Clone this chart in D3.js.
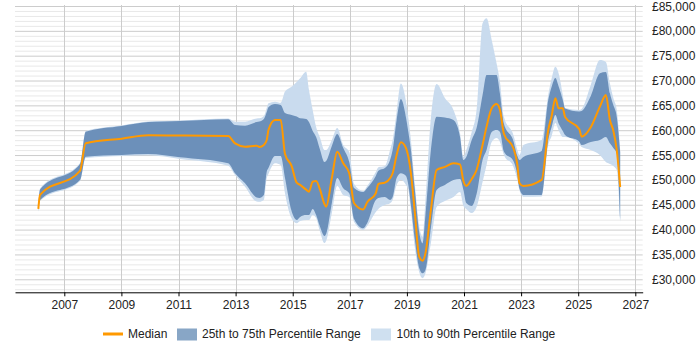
<!DOCTYPE html>
<html>
<head>
<meta charset="utf-8">
<script src="https://cdn.jsdelivr.net/npm/d3@7"></script>
<style>
  body { margin: 0; background: #fff; }
  text { font-family: "Liberation Sans", Arial, sans-serif; font-size: 12px; fill: #222; }
</style>
</head>
<body>
<div id="chart"></div>
<script>
// decimal years of each sample
const years = [2006.09, 2006.15, 2007.55, 2007.75, 2009.01, 2009.94, 2011.05, 2012.74, 2012.98, 2013.33,
  2013.74, 2013.83, 2013.99, 2014.09, 2014.15, 2014.38, 2014.58, 2014.73, 2014.96, 2015.14,
  2015.26, 2015.47, 2015.57, 2015.70, 2015.82, 2015.96, 2016.11, 2016.17, 2016.37, 2016.56,
  2016.77, 2016.98, 2017.15, 2017.47, 2017.61, 2017.91, 2018.00, 2018.23, 2018.41, 2018.50,
  2018.64, 2018.79, 2018.97, 2019.05, 2019.14, 2019.28, 2019.43, 2019.55, 2019.65, 2019.84,
  2020.04, 2020.33, 2020.63, 2020.86, 2020.98, 2021.08, 2021.27, 2021.44, 2021.65, 2021.79,
  2021.97, 2022.14, 2022.26, 2022.40, 2022.73, 2022.87, 2022.94, 2023.08, 2023.72, 2023.95,
  2024.07, 2024.20, 2024.31, 2024.46, 2024.54, 2025.04, 2025.12, 2025.44, 2025.76, 2025.97,
  2026.11, 2026.23, 2026.35, 2026.47];

const p90 = [44960, 48280, 53410, 59850, 60960, 61760, 61960, 62370, 61720, 61720,
  62370, 62410, 62870, 64480, 65420, 65750, 65540, 67800, 68760, 69710,
  70450, 71780, 68100, 64080, 60650, 58440, 56030, 56030, 58040, 60450,
  57030, 55620, 49190, 47780, 48780, 51600, 52550, 52810, 56030, 58040,
  63670, 69410, 65690, 62470, 58040, 48990, 40740, 38580, 45970, 62470,
  69310, 66490, 64080, 59450, 54680, 56030, 59650, 64080, 81520, 82520,
  78160, 73470, 69710, 62670, 59040, 56030, 55020, 57030, 58040, 67090,
  70450, 72790, 71520, 67090, 64480, 64080, 64280, 69110, 74130, 73730,
  69450, 66490, 64080, 56030];

const p75 = [44760, 48080, 53210, 59710, 60860, 61660, 61860, 62210, 61060, 60920,
  61660, 61760, 62270, 63670, 64620, 65280, 65080, 63470, 63070, 62770,
  62410, 62270, 61660, 59850, 58640, 56030, 53610, 53810, 56830, 59250,
  56430, 53610, 48380, 47580, 48380, 50800, 51860, 52410, 54020, 56030,
  62060, 66290, 62470, 59650, 56030, 47980, 39530, 37250, 42950, 56030,
  62730, 62570, 62060, 58700, 54020, 54620, 58040, 60450, 67090, 71120,
  71120, 71120, 67290, 61260, 57840, 54820, 54020, 54620, 55830, 66090,
  68760, 70510, 68910, 66090, 64380, 63770, 63870, 66890, 71460, 71720,
  67430, 65080, 62730, 55620];

const median = [44160, 46970, 51800, 57380, 58300, 58980, 58920, 58840, 57340, 56690,
  56890, 56630, 57030, 58040, 60050, 62060, 62060, 55220, 52810, 49450,
  48990, 48040, 47640, 49650, 49790, 47980, 45160, 44620, 50330, 55690,
  53350, 51340, 45300, 44060, 45500, 47310, 49190, 49450, 50330, 51340,
  55020, 57580, 56370, 54680, 51340, 43290, 34560, 33750, 35240, 43960,
  52000, 52610, 53350, 53110, 49790, 48780, 50190, 52000, 57030, 60720,
  64420, 65280, 64080, 59250, 56370, 53010, 49390, 48780, 49990, 60050,
  62870, 66430, 64420, 64420, 62670, 60190, 58700, 60590, 64740, 67090,
  62060, 59910, 56030, 48580];

const p25 = [43750, 45970, 49990, 54680, 55020, 55220, 54560, 53350, 51340, 49330,
  46470, 46370, 46970, 51660, 52410, 54820, 54820, 50390, 43750, 41940,
  42550, 42950, 42950, 44160, 42950, 40530, 38720, 39130, 45300, 50390,
  48320, 47310, 42140, 40270, 41340, 45970, 46370, 46570, 45970, 46570,
  50390, 51340, 50800, 48990, 44960, 37920, 32280, 31210, 31870, 40330,
  47980, 48990, 49990, 50190, 47980, 45360, 44760, 47170, 54020, 56030,
  59650, 60050, 59650, 55690, 53810, 51000, 48320, 46970, 46970, 58040,
  60650, 63070, 61400, 59850, 59040, 57700, 57030, 57640, 58040, 58640,
  57380, 56430, 55360, 41940];

const p10 = [43550, 45760, 49790, 54420, 54820, 54960, 54220, 52870, 51000, 48640,
  45660, 45620, 45970, 50330, 51200, 53350, 53010, 47310, 42280, 41280,
  41740, 41940, 41940, 42950, 42350, 39530, 37310, 37720, 43290, 48780,
  46970, 46570, 41540, 39930, 40740, 43550, 44160, 44960, 45300, 45970,
  48990, 49990, 48990, 47980, 43960, 36310, 31470, 30210, 31210, 37310,
  44560, 45760, 46570, 47580, 44760, 44160, 43350, 44560, 49590, 53010,
  57640, 58440, 57640, 55020, 52670, 49990, 47980, 46630, 46670, 57030,
  58840, 61460, 60050, 58640, 58640, 57230, 56630, 56030, 55020, 53610,
  53210, 52810, 52000, 41540];

const xTicks = [2007, 2009, 2011, 2013, 2015, 2017, 2019, 2021, 2023, 2025, 2027];
const yTicks = [30000, 35000, 40000, 45000, 50000, 55000, 60000, 65000, 70000, 75000, 80000, 85000];
const legendLabels = ["Median", "25th to 75th Percentile Range", "10th to 90th Percentile Range"];

const W = 700, H = 350;
const plot = { left: 15, right: 642.7, top: 5, bottom: 292.3 };

const data = years.map((t, i) => ({
  t, p10: p10[i], p25: p25[i], m: median[i], p75: p75[i], p90: p90[i]
}));

const x = d3.scaleLinear().domain([2005.273, 2027.259]).range([plot.left, plot.right]);
const y = d3.scaleLinear().domain([27380, 85200]).range([plot.bottom, plot.top]);

const svg = d3.select("#chart").append("svg")
  .attr("width", W)
  .attr("height", H);

// minor + major horizontal grid
const minor = d3.range(28000, 85001, 1000).filter(v => v % 5000 !== 0);
svg.append("g").selectAll("line").data(minor).join("line")
  .attr("x1", plot.left).attr("x2", plot.right)
  .attr("y1", d => y(d) + 0.5).attr("y2", d => y(d) + 0.5)
  .attr("stroke", "#e8e8e8");

svg.append("g").selectAll("line").data(yTicks).join("line")
  .attr("x1", plot.left).attr("x2", plot.right)
  .attr("y1", d => y(d) + 0.5).attr("y2", d => y(d) + 0.5)
  .attr("stroke", "#cccccc");

// vertical grid
svg.append("g").selectAll("line").data(xTicks).join("line")
  .attr("x1", d => Math.round(x(d)) + 0.5).attr("x2", d => Math.round(x(d)) + 0.5)
  .attr("y1", plot.top).attr("y2", plot.bottom)
  .attr("stroke", "#cccccc");

// bands
const area = (lo, hi) => d3.area()
  .x(d => x(d.t))
  .y0(d => y(d[lo]))
  .y1(d => y(d[hi]))
  .curve(d3.curveMonotoneX);

svg.append("path")
  .datum(data)
  .attr("d", area("p10", "p90"))
  .attr("fill", "#c9dbee");

svg.append("path")
  .datum(data)
  .attr("d", area("p25", "p75"))
  .attr("fill", "#6c90ba");

svg.append("path")
  .datum(data)
  .attr("d", d3.line().x(d => x(d.t)).y(d => y(d.m)).curve(d3.curveMonotoneX))
  .attr("fill", "none")
  .attr("stroke", "#ff9900")
  .attr("stroke-width", 2);

// x axis
const xAxis = svg.append("g")
  .attr("transform", `translate(0,${plot.bottom})`)
  .call(d3.axisBottom(x).tickValues(xTicks).tickFormat(d3.format("d")).tickSize(4).tickSizeOuter(0));
xAxis.select(".domain").attr("stroke", "#000");
xAxis.selectAll("text").attr("dy", "0.8em").style("font-size", "12px").attr("fill", "#222");

// y labels on the right
const fmt = d3.format(",");
svg.append("g").selectAll("text").data(yTicks).join("text")
  .attr("x", 652)
  .attr("y", d => y(d) + 4.5)
  .text(d => "£" + fmt(d));

// legend
const lg = svg.append("g").attr("transform", "translate(0,334)");
lg.append("line").attr("x1", 103).attr("x2", 123).attr("y1", 0).attr("y2", 0)
  .attr("stroke", "#ff9900").attr("stroke-width", 3);
lg.append("text").attr("x", 128).attr("y", 4).text(legendLabels[0]);
lg.append("rect").attr("x", 177).attr("y", -5.5).attr("width", 20).attr("height", 12).attr("fill", "#88a6c6");
lg.append("text").attr("x", 202).attr("y", 4).text(legendLabels[1]);
lg.append("rect").attr("x", 371).attr("y", -5.5).attr("width", 20).attr("height", 12).attr("fill", "#cfe0f0");
lg.append("text").attr("x", 396.5).attr("y", 4).text(legendLabels[2]);
</script>
</body>
</html>
